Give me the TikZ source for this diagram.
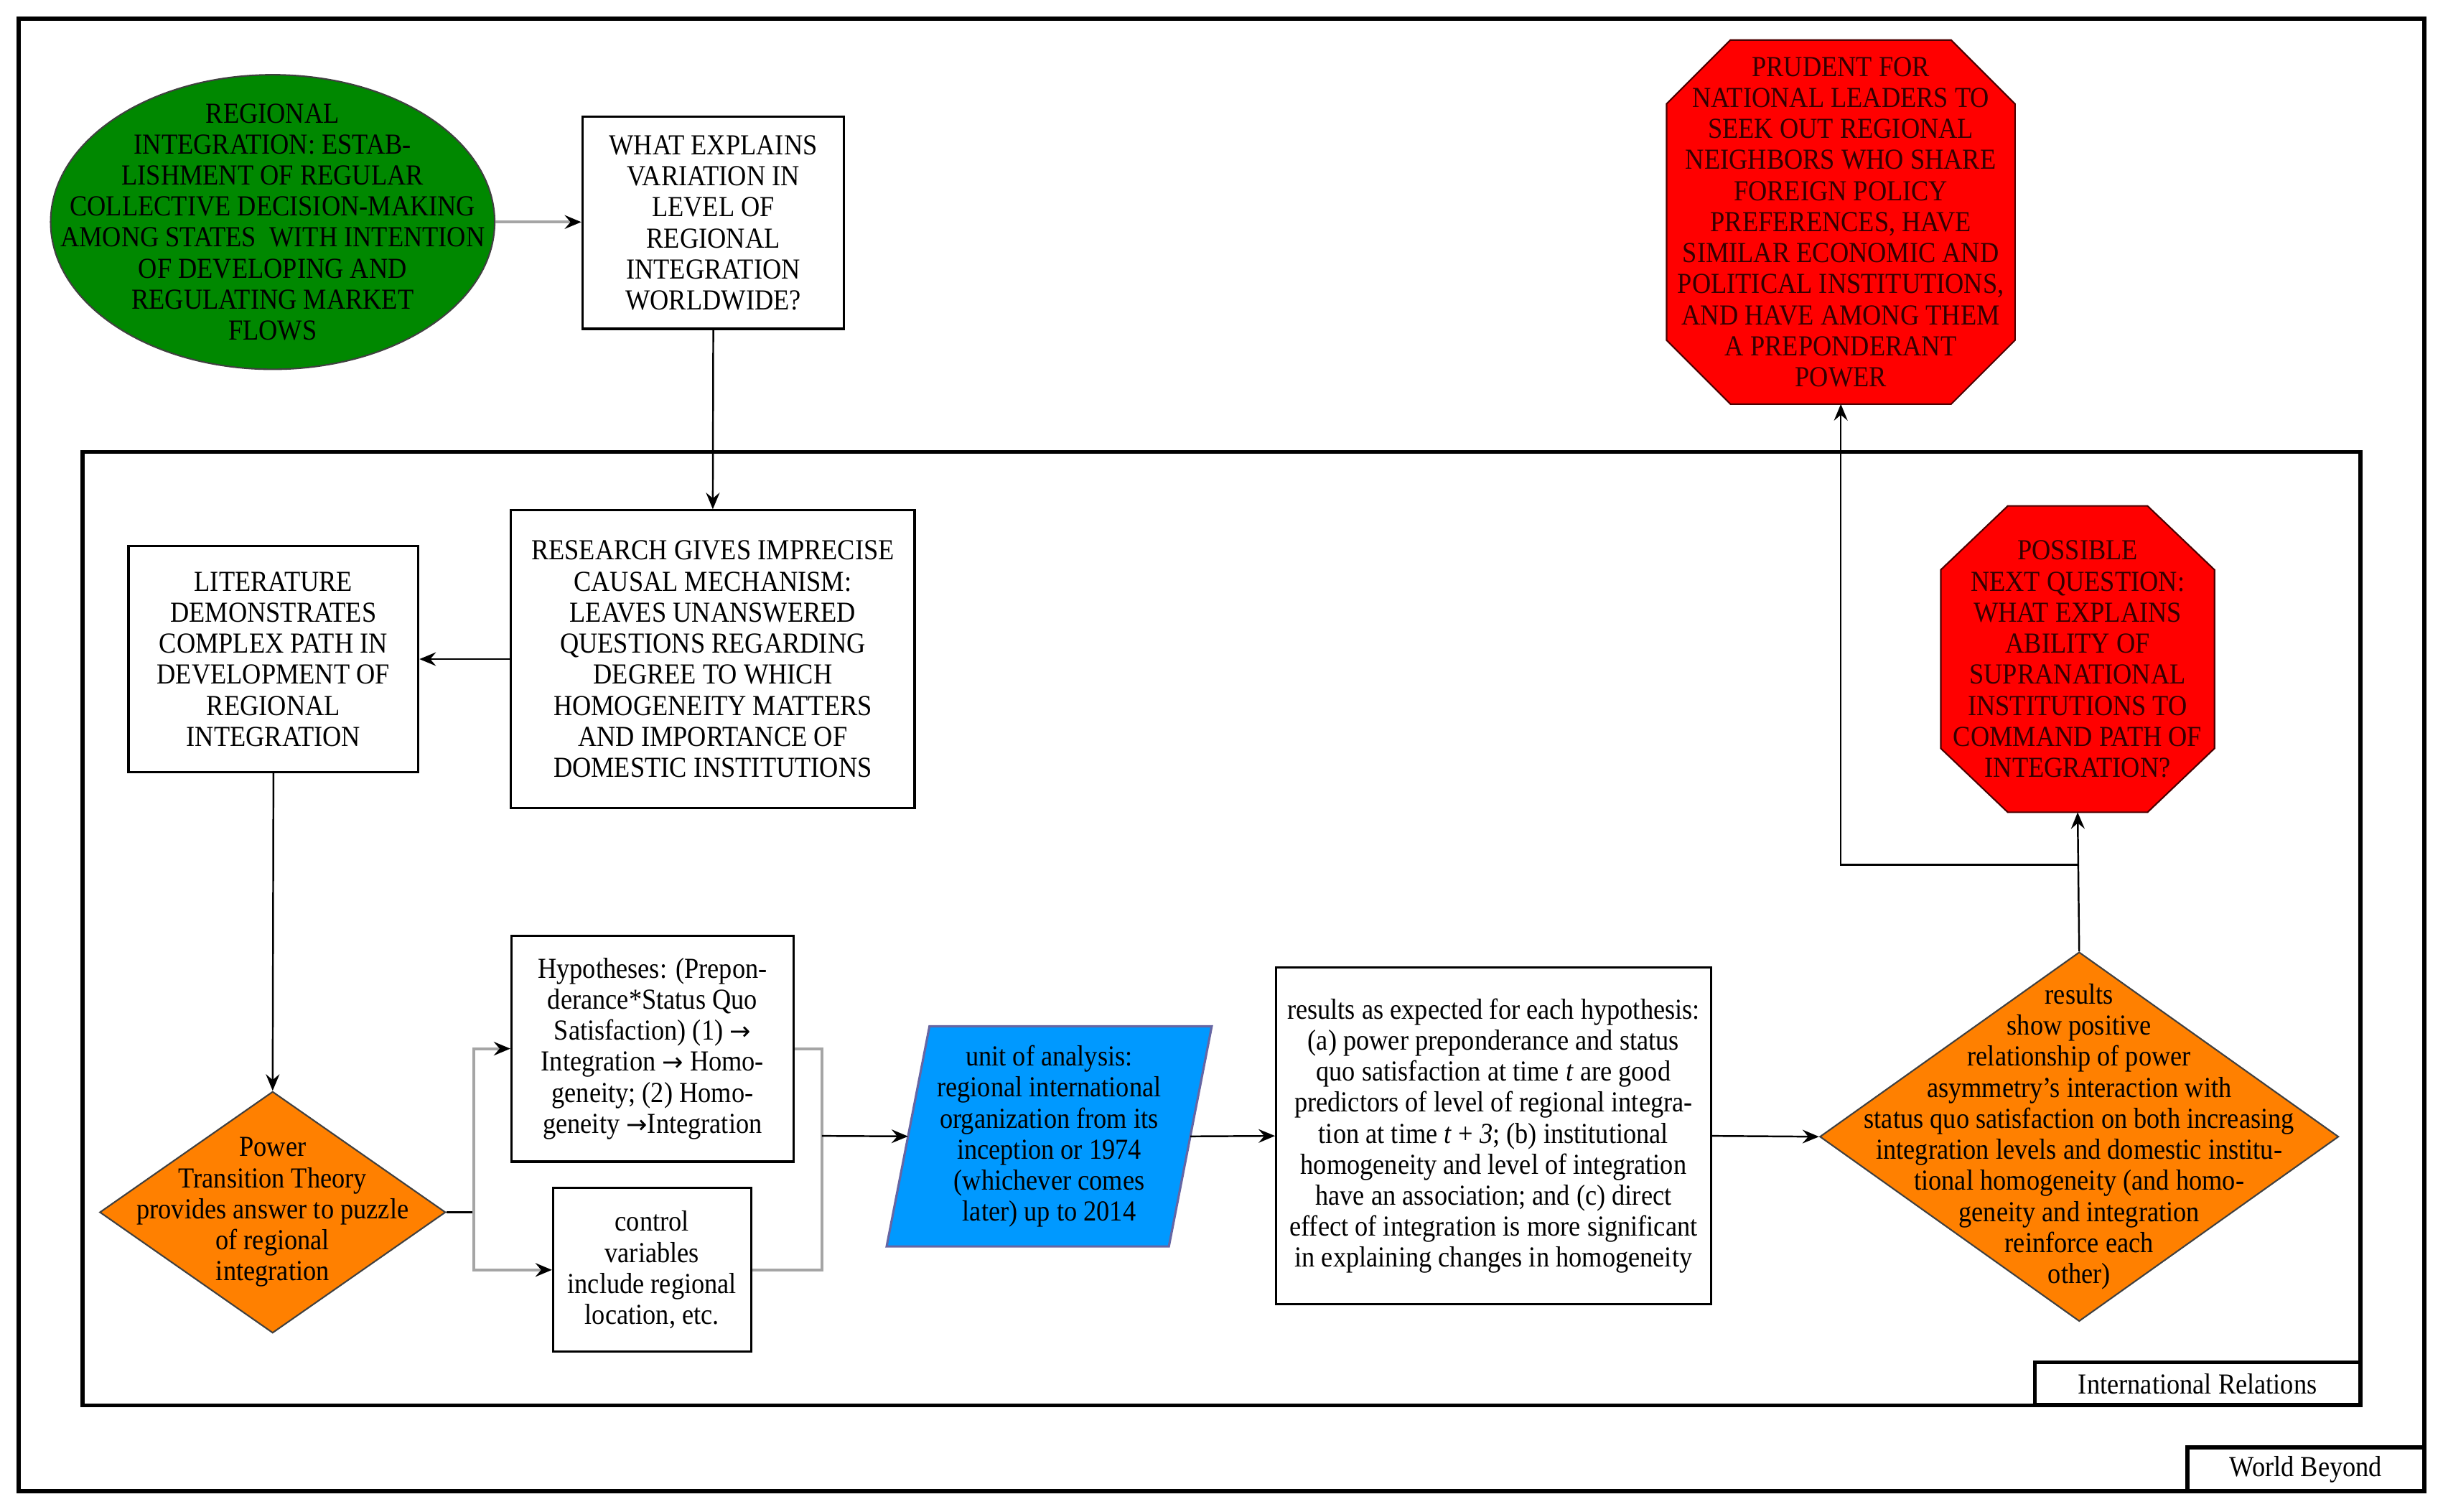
\documentclass[tikz,border=0pt]{standalone}
\usepackage{fontspec}
\setmainfont[FakeStretch=0.9]{Liberation Serif}
\newfontfamily\arrowfont{DejaVu Sans}
\newcommand{\rarr}{{\arrowfont\fontsize{10}{12.3}\selectfont →}}
\usetikzlibrary{shapes.geometric,arrows.meta}
\def\U{0.0217cm}
\definecolor{gfill}{RGB}{0,136,0}
\definecolor{ofill}{RGB}{255,128,0}
\definecolor{bfill}{RGB}{0,153,255}
\definecolor{rfill}{RGB}{255,0,0}
\definecolor{glin}{RGB}{165,165,165}
\begin{document}
\begin{tikzpicture}[x=0.0217cm,y=-0.0217cm,
  every node/.style={font=\fontsize{11.5}{12.3}\selectfont, align=center, inner sep=0pt},
  frame/.style={draw, line width=1.6pt},
  box/.style={draw, line width=0.9pt, fill=white},
  txt/.style={text=black},
  rtxt/.style={text=black!80!red},
  shp/.style={draw=black!75, line width=0.6pt},
  arr/.style={line width=0.7pt, -{Stealth[length=2.3mm,width=1.9mm,inset=0.8mm]}},
  garr/.style={draw=glin, line width=1.1pt, -{Stealth[length=2.3mm,width=1.9mm,inset=0.8mm,color=black]}},
  gline/.style={draw=glin, line width=1.1pt},
  bline/.style={line width=0.7pt}]
\useasboundingbox (0,0) rectangle (1568,970);
% frames
\node[frame, minimum width=1544*\U, minimum height=945*\U] (world) at (784,484.5) {};
\node[frame, minimum width=1462*\U, minimum height=612*\U] (ir) at (784,596) {};
\node[frame, fill=white, minimum width=152*\U, minimum height=28*\U] (worldlab) at (1480,943) {World Beyond};
\node[frame, fill=white, minimum width=209*\U, minimum height=27.5*\U] (irlab) at (1410.5,888) {International Relations};
% top row
\node[shp, ellipse, fill=gfill, minimum width=285*\U, minimum height=189*\U] (ell) at (175,142.5) {};
\node[txt] (ellt) at (ell.center) {REGIONAL\\INTEGRATION: ESTAB-\\LISHMENT OF REGULAR\\COLLECTIVE DECISION-MAKING\\AMONG STATES \ WITH INTENTION\\OF DEVELOPING AND\\REGULATING MARKET\\FLOWS};
\node[box, minimum width=168*\U, minimum height=136*\U] (what) at (457.8,143) {WHAT EXPLAINS\\VARIATION IN\\LEVEL OF\\REGIONAL\\INTEGRATION\\WORLDWIDE?};
% prudent octagon
\node[minimum width=223*\U, minimum height=233*\U] (prud) at (1181.5,142.5) {};
\fill[rfill, draw=black!70!red, line width=0.6pt]
  ([xshift=41*\U]prud.north west) -- ([xshift=-41*\U]prud.north east)
  -- ([yshift=-41*\U]prud.north east) -- ([yshift=41*\U]prud.south east)
  -- ([xshift=-41*\U]prud.south east) -- ([xshift=41*\U]prud.south west)
  -- ([yshift=41*\U]prud.south west) -- ([yshift=-41*\U]prud.north west) -- cycle;
\node[rtxt] (prudt) at (prud.center) {PRUDENT FOR\\NATIONAL LEADERS TO\\SEEK OUT REGIONAL\\NEIGHBORS WHO SHARE\\FOREIGN POLICY\\PREFERENCES, HAVE\\SIMILAR ECONOMIC AND\\POLITICAL INSTITUTIONS,\\AND HAVE AMONG THEM\\A PREPONDERANT\\POWER};
% middle
\node[box, minimum width=259*\U, minimum height=191*\U] (research) at (457.5,423) {RESEARCH GIVES IMPRECISE\\CAUSAL MECHANISM:\\LEAVES UNANSWERED\\QUESTIONS REGARDING\\DEGREE TO WHICH\\HOMOGENEITY MATTERS\\AND IMPORTANCE OF\\DOMESTIC INSTITUTIONS};
\node[box, minimum width=186*\U, minimum height=145*\U] (lit) at (175.5,423) {LITERATURE\\DEMONSTRATES\\COMPLEX PATH IN\\DEVELOPMENT OF\\REGIONAL\\INTEGRATION};
% possible octagon
\node[minimum width=175*\U, minimum height=196*\U] (poss) at (1333.5,423) {};
\fill[rfill, draw=black!70!red, line width=0.6pt]
  ([xshift=43*\U]poss.north west) -- ([xshift=-43*\U]poss.north east)
  -- ([yshift=-41*\U]poss.north east) -- ([yshift=41*\U]poss.south east)
  -- ([xshift=-43*\U]poss.south east) -- ([xshift=43*\U]poss.south west)
  -- ([yshift=41*\U]poss.south west) -- ([yshift=-41*\U]poss.north west) -- cycle;
\node[rtxt] (posst) at (poss.center) {POSSIBLE\\NEXT QUESTION:\\WHAT EXPLAINS\\ABILITY OF\\SUPRANATIONAL\\INSTITUTIONS TO\\COMMAND PATH OF\\INTEGRATION?};
% bottom row
\node[shp, diamond, fill=ofill, minimum width=222*\U, minimum height=155*\U] (pd) at (175,778) {};
\node[txt] (pdt) at (pd.center) {Power\\Transition Theory\\provides answer to puzzle\\of regional\\integration};
\node[box, minimum width=181*\U, minimum height=145*\U] (hyp) at (418.8,673) {Hypotheses: (Prepon-\\derance*Status Quo\\Satisfaction) (1) \rarr\\Integration \rarr\ Homo-\\geneity; (2) Homo-\\geneity \rarr Integration};
\node[box, minimum width=127*\U, minimum height=105*\U] (ctrl) at (418.5,815) {control\\variables\\include regional\\location, etc.};
% parallelogram
\node[minimum width=208*\U, minimum height=140.6*\U] (par) at (673.4,729.3) {};
\fill[bfill, draw=black!60!blue!60, line width=0.9pt]
  (par.south west) -- ([xshift=27.5*\U]par.north west) -- (par.north east)
  -- ([xshift=-27.5*\U]par.south east) -- cycle;
\coordinate (parw) at ([xshift=13.75*\U]par.west);
\coordinate (pare) at ([xshift=-13.75*\U]par.east);
\node[txt] (part) at (par.center) {unit of analysis:\\regional international\\organization from its\\inception or 1974\\(whichever comes\\later) up to 2014};
\node[box, minimum width=279*\U, minimum height=216*\U] (res) at (958.6,729) {results as expected for each hypothesis:\\(a) power preponderance and status\\quo satisfaction at time \textit{t} are good\\predictors of level of regional integra-\\tion at time \textit{t} + \textit{3}; (b) institutional\\homogeneity and level of integration\\have an association; and (c) direct\\effect of integration is more significant\\in explaining changes in homogeneity};
\node[shp, diamond, fill=ofill, minimum width=333*\U, minimum height=237*\U] (rd) at (1334.5,729.5) {};
\node[txt] (rdt) at (rd.center) {results\\show positive\\relationship of power\\asymmetry’s interaction with\\status quo satisfaction on both increasing\\integration levels and domestic institu-\\tional homogeneity (and homo-\\geneity and integration\\reinforce each\\other)};
% junction coordinates
\coordinate (j1) at (304,778);
\coordinate (j2) at (527.5,729);
\coordinate (j3) at (1334.5,555);
% connectors
\draw[garr] (ell.east) -- (ell.east -| what.west);
\draw[arr] (what.south) -- (research.north);
\draw[arr] (research.west) -- (lit.east);
\draw[arr] (lit.south) -- (pd.north);
\draw[bline] (pd.east) -- (j1);
\draw[garr] (j1) |- (hyp.west);
\draw[garr] (j1) |- (ctrl.west);
\draw[gline] (hyp.east) -| (j2);
\draw[gline] (ctrl.east) -| (j2);
\draw[arr] (j2) -- (parw);
\draw[arr] (pare) -- (res.west);
\draw[arr] (res.east) -- (rd.west);
\draw[arr] (rd.north) -- (poss.south);
\draw[arr] (j3) -| (prud.south);
\end{tikzpicture}
\end{document}
